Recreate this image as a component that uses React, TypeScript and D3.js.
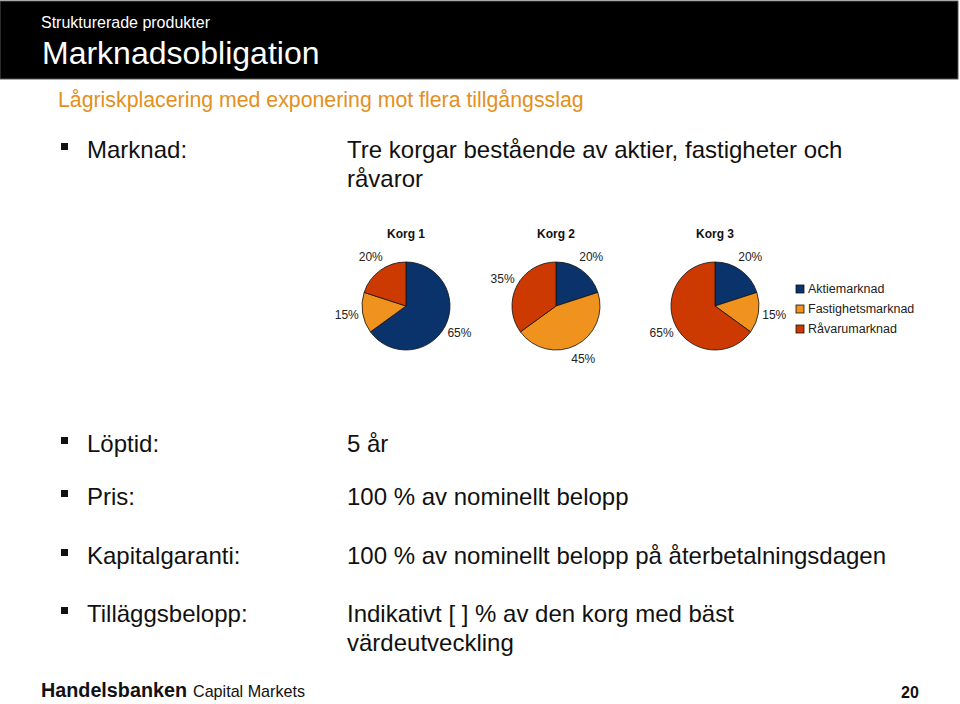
import React from "react";
import * as d3 from "d3";

const baskets = ["Korg 1", "Korg 2", "Korg 3"];
const assetClasses = ["Aktiemarknad", "Fastighetsmarknad", "Råvarumarknad"];
const korg1 = [65, 15, 20];
const korg2 = [20, 45, 35];
const korg3 = [20, 15, 65];
const basketValues = [korg1, korg2, korg3];
const colors = ["#0A336B", "#F0921E", "#CC3A02"];

const headerSmall = "Strukturerade produkter";
const headerTitle = "Marknadsobligation";
const subtitle = "Lågriskplacering med exponering mot flera tillgångsslag";

const bulletLabels = ["Marknad:", "Löptid:", "Pris:", "Kapitalgaranti:", "Tilläggsbelopp:"];
const bulletTexts = [
  ["Tre korgar bestående av aktier, fastigheter och", "råvaror"],
  ["5 år"],
  ["100 % av nominellt belopp"],
  ["100 % av nominellt belopp på återbetalningsdagen"],
  ["Indikativt [ ] % av den korg med bäst", "värdeutveckling"],
];
const bulletBaselines = [158, 452, 505, 564, 622];

export default function App() {
  const pieCx = [406, 556, 715];
  const pieCy = 306;
  const r = 44;
  const labelR = 60;
  const pie = d3.pie<number>().sort(null).value((d) => d);
  const arc = d3.arc<d3.PieArcDatum<number>>().innerRadius(0).outerRadius(r);
  const labelArc = d3.arc<d3.PieArcDatum<number>>().innerRadius(labelR).outerRadius(labelR);
  const font = "Liberation Sans, Arial, Helvetica, sans-serif";

  return (
    <svg width={960} height={704} style={{ position: "absolute", left: 0, top: 0, background: "#fff" }} fontFamily={font}>
      <rect x={0} y={0} width={960} height={704} fill="#fff" />
      {/* header */}
      <rect x={0} y={1} width={958} height={78} fill="#000" stroke="#555" strokeWidth={1} />
      <text x={41} y={28} fontSize={16} fill="#fff">{headerSmall}</text>
      <text x={42} y={64} fontSize={32} fill="#fff">{headerTitle}</text>
      <text x={58} y={107} fontSize={21.3} fill="#E39020">{subtitle}</text>

      {/* bullets */}
      {bulletLabels.map((lab, i) => (
        <g key={lab}>
          <rect x={61} y={bulletBaselines[i] - 15} width={7} height={7} fill="#111" />
          <text x={87} y={bulletBaselines[i]} fontSize={24} fill="#111">{lab}</text>
          {bulletTexts[i].map((t, j) => (
            <text key={j} x={347} y={bulletBaselines[i] + j * 29} fontSize={24} fill="#111">{t}</text>
          ))}
        </g>
      ))}

      {/* pies */}
      {basketValues.map((vals, i) => {
        const arcs = pie(vals);
        return (
          <g key={baskets[i]}>
            <text x={pieCx[i]} y={238} textAnchor="middle" fontSize={12} fontWeight="bold" fill="#111">{baskets[i]}</text>
            <g transform={`translate(${pieCx[i]},${pieCy})`}>
              {arcs.map((a, k) => (
                <path key={k} d={arc(a) || ""} fill={colors[k]} stroke="#111" strokeWidth={0.8} />
              ))}
              {arcs.map((a, k) => {
                const [lx, ly] = labelArc.centroid(a);
                return (
                  <text key={"l" + k} x={lx} y={ly} textAnchor="middle" dominantBaseline="central" fontSize={12} fill="#222">
                    {vals[k]}%
                  </text>
                );
              })}
            </g>
          </g>
        );
      })}

      {/* legend */}
      {assetClasses.map((name, k) => (
        <g key={name}>
          <rect x={796} y={285 + k * 20} width={8} height={8} fill={colors[k]} stroke="#111" strokeWidth={0.8} />
          <text x={808} y={289 + k * 20} dominantBaseline="central" fontSize={12.5} fill="#222">{name}</text>
        </g>
      ))}

      {/* footer */}
      <text x={41} y={697} fontSize={20} fontWeight="bold" fill="#111" textLength={146} lengthAdjust="spacingAndGlyphs">Handelsbanken</text>
      <text x={193} y={697} fontSize={17} fill="#111" textLength={112} lengthAdjust="spacingAndGlyphs">Capital Markets</text>
      <text x={901} y={698} fontSize={16} fontWeight="bold" fill="#111">20</text>
    </svg>
  );
}
